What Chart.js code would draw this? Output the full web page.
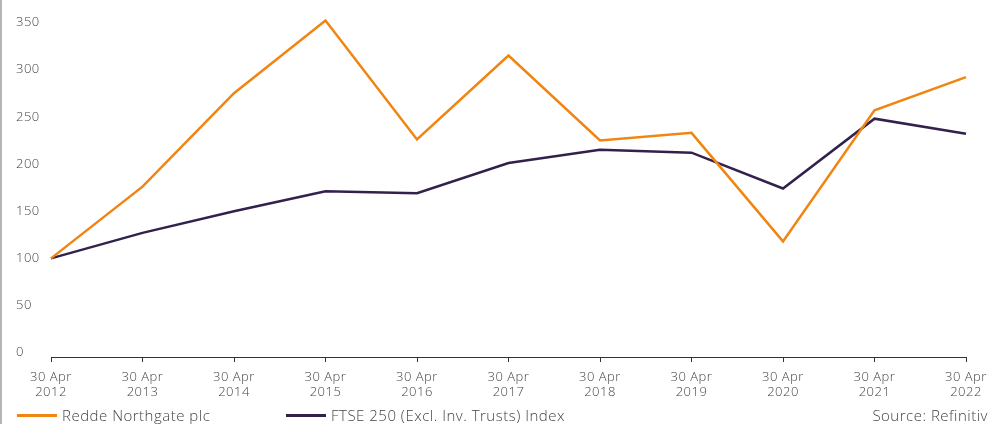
<!DOCTYPE html>
<html>
<head>
<meta charset="utf-8">
<script src="https://cdn.jsdelivr.net/npm/chart.js@4"></script>
<style>
  html, body { margin: 0; padding: 0; background: #fff; }
  #wrap { position: relative; width: 988px; height: 424px; box-sizing: border-box; border-left: 2px solid #b5b5b5; font-family: "Open Sans", sans-serif; font-weight: 300; color: #444; letter-spacing: 0.5px; }
  #chart { position: absolute; left: 0; top: 0; }
  .legend { position: absolute; top: 405px; font-size: 15px; white-space: nowrap; }
  .legend span.swatch { display: inline-block; width: 40px; height: 3px; vertical-align: middle; margin-right: 5px; position: relative; top: -1px; }
  #source { position: absolute; right: 0px; top: 405px; font-size: 15px; }
</style>
</head>
<body>
<div id="wrap">
  <canvas id="chart" width="986" height="424"></canvas>
  <div class="legend" style="left:15px"><span class="swatch" style="background:#f08512"></span>Redde Northgate plc</div>
  <div class="legend" style="left:284px"><span class="swatch" style="background:#33214d"></span>FTSE 250 (Excl. Inv. Trusts) Index</div>
  <div id="source">Source: Refinitiv</div>
</div>
<script>
const years = ['2012', '2013', '2014', '2015', '2016', '2017', '2018', '2019', '2020', '2021', '2022']
const redde = [100, 176, 275, 352, 226, 315, 225, 233, 118, 257, 292]
const ftse = [100, 127, 150, 171, 169, 201, 215, 212, 174, 248, 232]
const yTicks = [0, 50, 100, 150, 200, 250, 300, 350]

const tickFont = { family: 'Open Sans', size: 13, weight: 300 }

// a bit of tracking so the canvas text is as wide as the reference face
const spacing = {
  id: 'spacing',
  beforeDraw: chart => { chart.ctx.letterSpacing = '0.5px' }
}

const ctx = document.getElementById('chart').getContext('2d')
new Chart(ctx, {
  type: 'line',
  data: {
    labels: years.map(y => ['30 Apr', y]),
    datasets: [
      { label: 'Redde Northgate plc', data: redde, borderColor: '#f08512', borderWidth: 2.5, pointRadius: 0, tension: 0 },
      { label: 'FTSE 250 (Excl. Inv. Trusts) Index', data: ftse, borderColor: '#33214d', borderWidth: 2.5, pointRadius: 0, tension: 0 }
    ]
  },
  plugins: [spacing],
  options: {
    responsive: false,
    animation: false,
    layout: { padding: { left: 14, right: 22, top: 2, bottom: 0 } },
    plugins: { legend: { display: false }, tooltip: { enabled: false } },
    scales: {
      x: {
        offset: false,
        grid: { display: true, drawOnChartArea: false, drawTicks: true, tickLength: 5, color: '#333' },
        border: { display: true, color: '#333', width: 1 },
        ticks: { color: '#444', font: tickFont, padding: 7, maxRotation: 0, autoSkip: false },
        afterFit: s => { s.height = 67; s.paddingLeft = 0; s.paddingRight = 0 }
      },
      y: {
        min: -4.5,
        max: 365.5,
        afterBuildTicks: s => { s.ticks = yTicks.map(v => ({ value: v })) },
        grid: { display: false },
        border: { display: false },
        ticks: { color: '#444', font: tickFont, crossAlign: 'far', padding: 0 },
        afterFit: s => { s.width = 35 }
      }
    }
  }
})
</script>
</body>
</html>
